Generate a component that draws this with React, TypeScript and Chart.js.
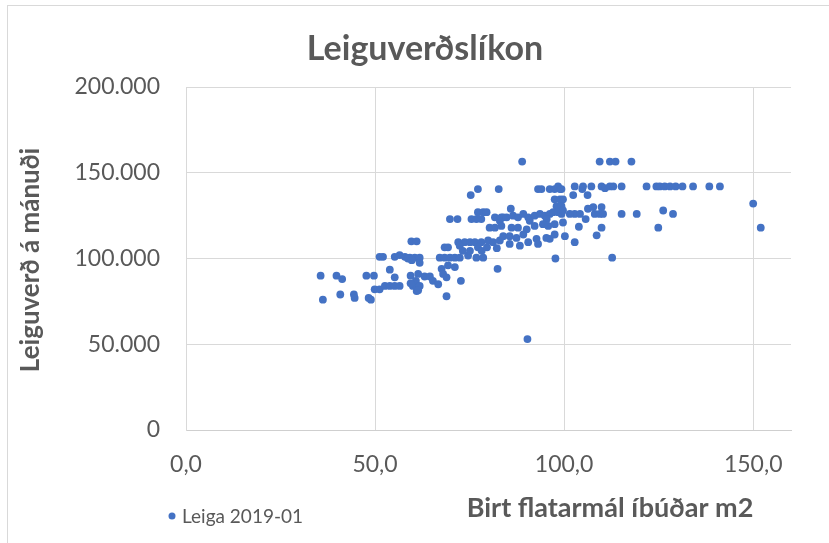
import React, { useEffect, useRef } from "react";
import { Chart, registerables } from "chart.js";

Chart.register(...registerables);

const chartTitle = "Leiguverðslíkon";
const xAxisTitle = "Birt flatarmál íbúðar m2";
const yAxisTitle = "Leiguverð á mánuði";
const seriesName = "Leiga 2019-01";

const xTickValues = [0, 50, 100, 150];
const yTickValues = [0, 50000, 100000, 150000, 200000];

const areaM2 = [
  35.6, 36.2, 39.8, 41.3, 40.8, 44.4, 44.6, 47.7, 49.7, 48.3,
  48.9, 49.9, 51.2, 52.6, 53.9, 55.2, 56.5, 51.2, 52.1, 53.9,
  55.2, 55.2, 56.5, 57.9, 59.2, 60.5, 61.8, 59.6, 61.0, 59.4,
  60.8, 60.0, 61.3, 59.4, 61.0, 58.7, 59.7, 61.8, 61.4, 63.1,
  64.5, 65.3, 66.7, 61.8, 61.4, 67.1, 68.4, 69.8, 71.1, 72.4,
  74.6, 76.8, 78.6, 68.4, 69.3, 71.1, 69.3, 67.6, 68.0, 68.9,
  72.7, 68.9, 72.0, 73.7, 75.1, 76.4, 78.1, 79.9, 81.2, 83.0,
  72.4, 73.2, 75.1, 77.2, 78.2, 79.6, 82.2, 69.8, 71.8, 75.5,
  76.8, 78.1, 77.2, 78.6, 79.5, 81.7, 83.0, 83.9, 80.3, 81.7,
  75.3, 77.2, 82.7, 82.4, 88.9, 90.3, 85.9, 93.1, 94.0, 96.2,
  97.5, 98.4, 98.9, 99.3, 97.5, 98.9, 99.7, 98.0, 99.3, 83.4,
  84.8, 86.5, 87.8, 89.2, 90.5, 92.2, 93.6, 94.9, 96.2, 97.1,
  98.4, 99.3, 99.7, 95.4, 90.9, 83.4, 86.1, 87.8, 90.1, 92.2,
  94.4, 95.8, 97.5, 99.7, 83.9, 85.6, 87.4, 89.2, 90.5, 92.7,
  93.1, 95.3, 96.2, 97.5, 100.2, 102.8, 88.3, 85.6, 97.7, 102.4,
  102.8, 104.8, 105.0, 107.2, 109.9, 110.8, 112.1, 113.0, 115.2, 121.8,
  124.4, 125.3, 126.6, 128.0, 129.5, 131.3, 134.1, 138.4, 141.2, 106.2,
  109.4, 112.1, 113.6, 117.8, 102.8, 104.2, 106.3, 107.7, 109.9, 108.1,
  109.4, 110.3, 101.5, 115.2, 119.2, 126.2, 128.8, 105.7, 103.9, 109.9,
  124.9, 108.6, 112.7, 150.0, 152.0,
];

const rentKr = [
  90000, 76000, 90000, 88000, 79000, 79000, 77000, 90000, 90000, 77000,
  76000, 82000, 82000, 84000, 84000, 84000, 84000, 101000, 101000, 93500,
  89000, 101000, 102000, 101000, 100500, 100500, 100500, 110000, 110000, 90000,
  87000, 84000, 83000, 85500, 81000, 100000, 99000, 97500, 91000, 89500,
  89500, 87000, 85000, 84000, 81500, 100500, 100500, 100500, 100500, 100500,
  101700, 100500, 100500, 106500, 106500, 95000, 96000, 94000, 91000, 89000,
  87000, 78000, 109500, 109500, 109500, 109500, 109500, 110500, 109500, 110500,
  107500, 104500, 104500, 106500, 104500, 106500, 106000, 123000, 123000, 123000,
  123000, 123000, 127000, 127000, 127000, 124000, 122000, 124000, 118000, 118000,
  137000, 140500, 140500, 94000, 156500, 53000, 129000, 140500, 140500, 140500,
  140500, 142000, 140500, 140500, 134500, 134500, 134500, 130500, 130500, 124000,
  124000, 125000, 124000, 126000, 124000, 125000, 126000, 125000, 126000, 127000,
  127000, 126000, 128000, 123000, 122000, 119000, 118000, 118000, 117000, 119000,
  120000, 119000, 120000, 121000, 113000, 113000, 112000, 114000, 109500, 111500,
  108500, 112000, 111500, 114000, 113000, 109500, 107500, 108500, 100000, 137000,
  142000, 140500, 142000, 142000, 142000, 141000, 142000, 142000, 142000, 142000,
  142000, 142000, 142000, 142000, 142000, 142000, 142000, 142000, 142000, 137000,
  156500, 156500, 156500, 156500, 126000, 126000, 129000, 130000, 130000, 126000,
  126000, 126000, 126000, 126000, 126000, 128000, 126000, 123000, 118500, 118000,
  118000, 113500, 100500, 132000, 118000,
];

const FONT = "Lato, 'Open Sans', sans-serif";
const TEXT_COLOR = "#595959";
const POINT_COLOR = "#4472C4";
const GRID_COLOR = "#d9d9d9";

const fmtThousands = (v: number) =>
  Math.round(v).toString().replace(/\B(?=(\d{3})+(?!\d))/g, ".");
const fmtDecimal = (v: number) => v.toFixed(1).replace(".", ",");

const decorPlugin = {
  id: "decor",
  beforeDraw(chart: any) {
    const ctx = chart.ctx;
    ctx.save();
    ctx.fillStyle = "#ffffff";
    ctx.fillRect(0, 0, chart.width, chart.height);
    ctx.strokeStyle = "#d9d9d9";
    ctx.lineWidth = 1;
    ctx.strokeRect(7.5, 5.5, chart.width + 20, chart.height + 20);
    ctx.restore();
  },
  afterDraw(chart: any) {
    const ctx = chart.ctx;
    ctx.save();
    ctx.fillStyle = TEXT_COLOR;
    ctx.textAlign = "center";
    ctx.textBaseline = "middle";
    ctx.font = `bold 34px ${FONT}`;
    ctx.fillText(chartTitle, 425, 49);

    ctx.font = `bold 27px ${FONT}`;
    ctx.fillText(xAxisTitle, 610, 508);

    ctx.save();
    ctx.translate(31, 260);
    ctx.rotate(-Math.PI / 2);
    ctx.font = `bold 26px ${FONT}`;
    ctx.fillText(yAxisTitle, 0, 0);
    ctx.restore();

    ctx.fillStyle = POINT_COLOR;
    ctx.beginPath();
    ctx.arc(172, 516, 3.5, 0, Math.PI * 2);
    ctx.fill();
    ctx.fillStyle = TEXT_COLOR;
    ctx.textAlign = "left";
    ctx.font = `19px ${FONT}`;
    ctx.fillText(seriesName, 182, 517);
    ctx.restore();
  },
};

export default function App() {
  const canvasRef = useRef<HTMLCanvasElement | null>(null);

  useEffect(() => {
    if (!canvasRef.current) return;
    const points = areaM2.map((x, i) => ({ x, y: rentKr[i] }));
    const chart = new Chart(canvasRef.current, {
      type: "scatter",
      data: {
        datasets: [
          {
            label: seriesName,
            data: points,
            backgroundColor: POINT_COLOR,
            borderColor: POINT_COLOR,
            borderWidth: 0,
            pointRadius: 3.9,
          },
        ],
      },
      options: {
        animation: false,
        responsive: false,
        devicePixelRatio: 1,
        layout: { padding: { top: 87, right: 38, left: 0, bottom: 0 } },
        plugins: {
          legend: { display: false },
          tooltip: { enabled: false },
          title: { display: false },
        },
        scales: {
          x: {
            type: "linear",
            min: 0,
            max: 160,
            afterFit: (scale: any) => {
              scale.height = 113;
            },
            afterBuildTicks: (scale: any) => {
              scale.ticks = xTickValues.map((v) => ({ value: v }));
            },
            ticks: {
              callback: (v: any) => fmtDecimal(Number(v)),
              color: TEXT_COLOR,
              font: { family: FONT, size: 23 },
              padding: 21,
              maxRotation: 0,
            },
            grid: { color: GRID_COLOR, drawTicks: false, lineWidth: 1 },
            border: { display: true, color: "#cfcfcf" },
          },
          y: {
            type: "linear",
            min: 0,
            max: 200000,
            afterFit: (scale: any) => {
              scale.width = 186;
            },
            afterBuildTicks: (scale: any) => {
              scale.ticks = yTickValues.map((v) => ({ value: v }));
            },
            ticks: {
              callback: (v: any) => fmtThousands(Number(v)),
              color: TEXT_COLOR,
              font: { family: FONT, size: 23 },
              padding: 26,
            },
            grid: { color: GRID_COLOR, drawTicks: false, lineWidth: 1 },
            border: { display: true, color: GRID_COLOR },
          },
        },
      },
      plugins: [decorPlugin],
    } as any);
    return () => chart.destroy();
  }, []);

  return (
    <div style={{ position: "fixed", left: 0, top: 0, width: 829, height: 543 }}>
      <canvas ref={canvasRef} width={829} height={543} style={{ width: 829, height: 543, display: "block" }} />
    </div>
  );
}
